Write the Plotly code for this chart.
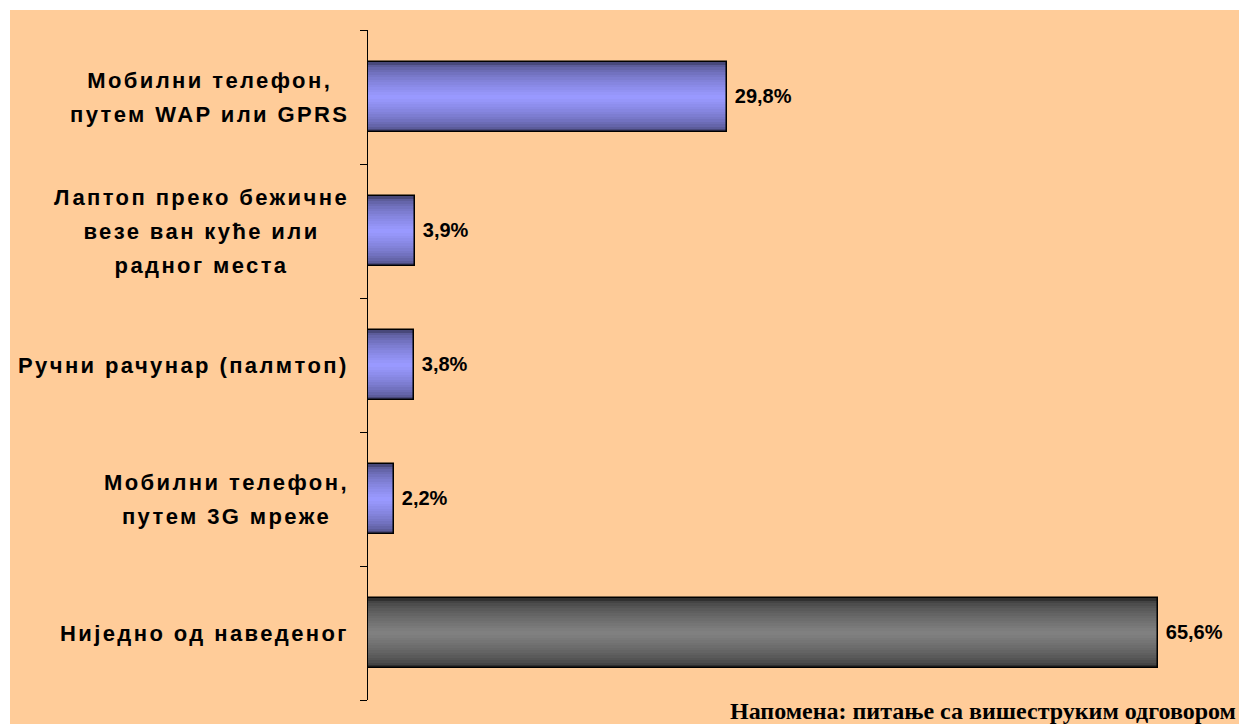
import plotly.graph_objects as go

categories = [
    "Мобилни телефон,<br>путем WAP или GPRS",
    "Лаптоп преко бежичне<br>везе ван куће или<br>радног места",
    "Ручни рачунар (палмтоп)",
    "Мобилни телефон,<br>путем 3G мреже",
    "Ниједно од наведеног",
]
values = [29.8, 3.9, 3.8, 2.2, 65.6]
value_labels = ["29,8%", "3,9%", "3,8%", "2,2%", "65,6%"]
footnote = "Напомена: питање са вишеструким одговором"

W, H = 1239, 724
L, R, T, B = 368, 28, 30, 24
pw, ph = W - L - R, H - T - B
XMAX = pw / 12.04

ids = list(range(len(categories)))

blue_dark, blue_light = (72, 72, 122), (153, 153, 255)
gray_dark, gray_light = (48, 48, 48), (128, 128, 128)
kinds = ["blue", "blue", "blue", "blue", "gray"]

def mix(a, b, t):
    return "rgb(%d,%d,%d)" % tuple(round(a[i] + (b[i] - a[i]) * t) for i in range(3))

fig = go.Figure()
BW = 0.52
N = 14
for i in range(N):
    t = i / (N - 1)
    tt = t ** 0.55
    cols = [mix(blue_dark, blue_light, tt) if k == "blue" else mix(gray_dark, gray_light, tt) for k in kinds]
    fig.add_trace(go.Bar(
        y=ids, x=values, orientation="h", width=BW * (1 - i / N),
        marker=dict(color=cols, line=dict(width=0)),
        hoverinfo="skip", showlegend=False,
    ))
fig.add_trace(go.Bar(
    y=ids, x=values, orientation="h", width=BW,
    marker=dict(color="rgba(0,0,0,0)", line=dict(color="black", width=1.5)),
    text=["<b>\u00a0%s</b>" % v for v in value_labels], textposition="outside", cliponaxis=False,
    textfont=dict(family="Liberation Sans, Arial", size=20, color="black"),
    showlegend=False,
))

annotations = []
for i, c in enumerate(categories):
    txt = "<br>".join(
        "<span style='font-size:22px;letter-spacing:2.4px'>%s</span>" % ln for ln in c.split("<br>")
    )
    annotations.append(dict(
        x=-17 / pw, xref="paper", y=i, yref="y", xanchor="right", yanchor="middle",
        text="<b>%s</b>" % txt, showarrow=False, align="center",
        font=dict(family="Liberation Sans, Arial", size=26, color="black"),
    ))
annotations.append(dict(
    x=1 + (1238 - (L + pw)) / pw, xref="paper", y=-(726 - (T + ph)) / ph, yref="paper",
    xanchor="right", yanchor="bottom", showarrow=False,
    text="<b>%s</b>" % footnote,
    font=dict(family="Liberation Serif, Times New Roman", size=24, color="black"),
))

fig.update_layout(
    width=W, height=H, barmode="overlay", bargap=0,
    margin=dict(l=L, r=R, t=T, b=B, pad=0),
    paper_bgcolor="white", plot_bgcolor="rgba(0,0,0,0)",
    xaxis=dict(range=[0, XMAX], visible=False, fixedrange=True),
    yaxis=dict(
        type="linear", range=[len(categories) - 0.5, -0.5],
        tickmode="array", tickvals=[k - 0.5 for k in range(len(categories) + 1)],
        showticklabels=False, ticks="outside", ticklen=7, tickcolor="black", tickwidth=1,
        showline=True, linecolor="black", linewidth=1, showgrid=False, zeroline=False,
    ),
    shapes=[dict(
        type="rect", xref="paper", yref="paper", layer="below",
        x0=(10 - L) / pw, x1=(W - L) / pw + 0.01,
        y0=-(B + 2) / ph, y1=1 + (T - 10) / ph,
        fillcolor="#FFCC99", line=dict(width=0),
    )],
    annotations=annotations,
    font=dict(family="Liberation Sans, Arial"),
)
fig.write_html(
    "out.html",
    config={"displayModeBar": False},
    post_script="document.body.style.margin='0';document.body.style.overflow='hidden';",
)
